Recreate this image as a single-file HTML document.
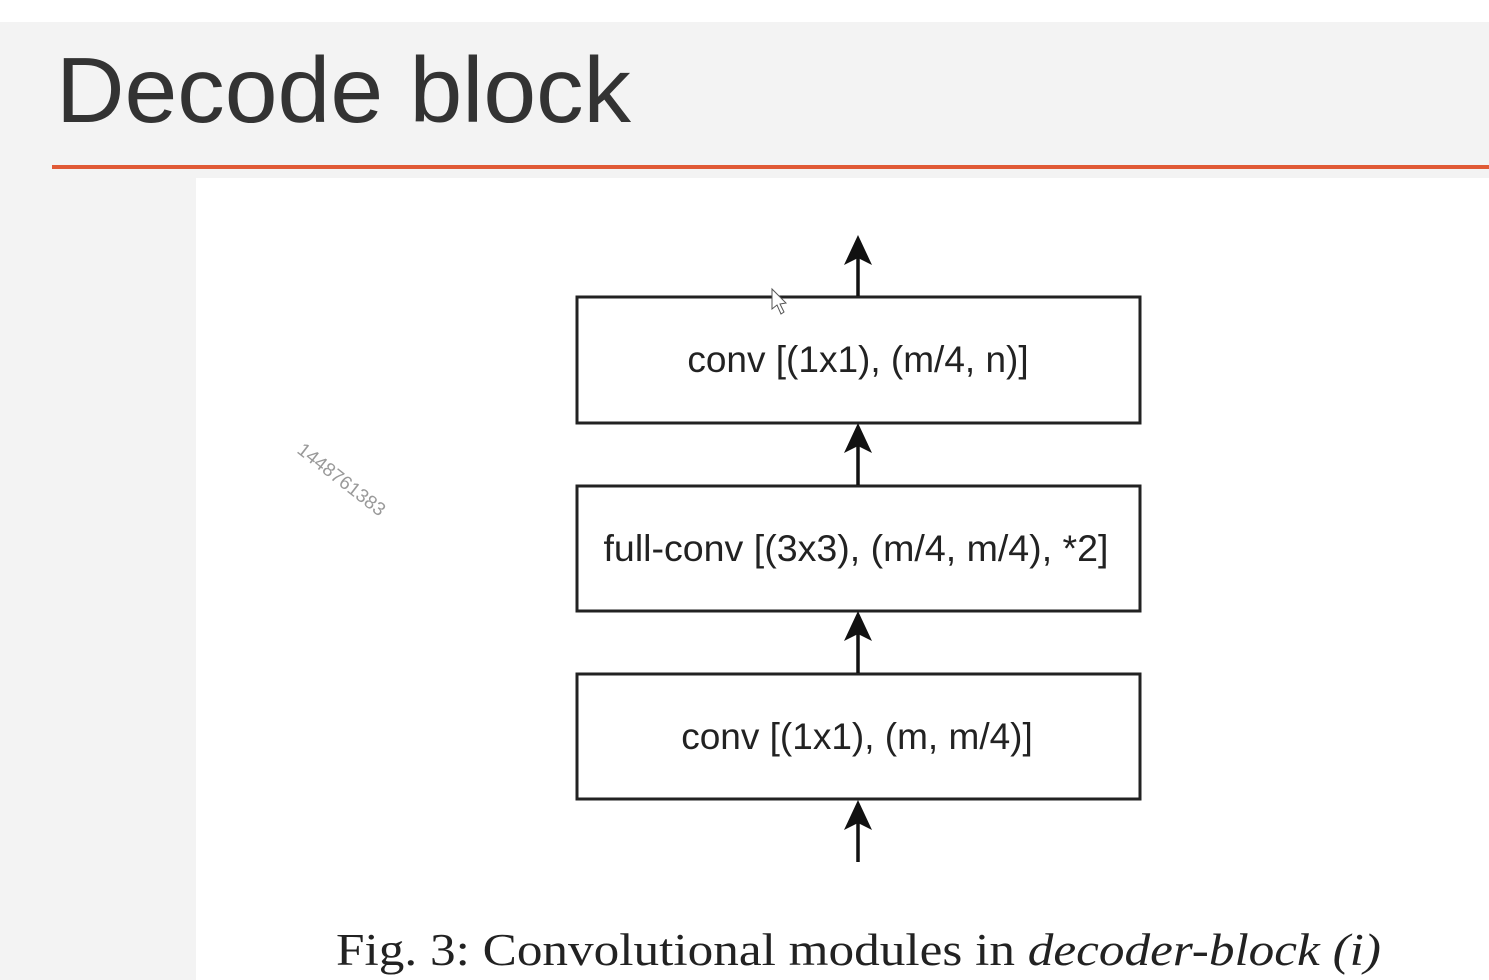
<!DOCTYPE html>
<html><head><meta charset="utf-8"><style>
html,body{margin:0;padding:0;width:1489px;height:980px;overflow:hidden;background:#fff}
svg{display:block}
</style></head><body>
<svg width="1489" height="980" viewBox="0 0 1489 980">
<rect x="0" y="0" width="1489" height="980" fill="#ffffff"/>
<rect x="0" y="22" width="1489" height="958" fill="#f3f3f3"/>
<text x="56" y="122" font-family="Liberation Sans, sans-serif" font-size="93" fill="#333" textLength="575" lengthAdjust="spacingAndGlyphs">Decode block</text>
<rect x="52" y="165" width="1437" height="4" fill="#e05a36"/>
<rect x="196" y="178" width="1293" height="802" fill="#ffffff"/>
<g stroke="#222" stroke-width="3" fill="#fff">
<rect x="577" y="297" width="563" height="126"/>
<rect x="577" y="486" width="563" height="125"/>
<rect x="577" y="674" width="563" height="125"/>
</g>
<g stroke="#111" stroke-width="3.5">
<line x1="858" y1="296" x2="858" y2="250"/>
<line x1="858" y1="485" x2="858" y2="438"/>
<line x1="858" y1="673" x2="858" y2="626"/>
<line x1="858" y1="862" x2="858" y2="814"/>
</g>
<g fill="#111">
<path d="M858 235 L872 265 L858 258 L844 265 Z"/>
<path d="M858 423 L872 453 L858 446 L844 453 Z"/>
<path d="M858 611 L872 641 L858 634 L844 641 Z"/>
<path d="M858 800 L872 830 L858 823 L844 830 Z"/>
</g>
<g font-family="Liberation Sans, sans-serif" font-size="37" fill="#222" text-anchor="middle">
<text x="858" y="372">conv [(1x1), (m/4, n)]</text>
<text x="856" y="561" textLength="505" lengthAdjust="spacingAndGlyphs">full-conv [(3x3), (m/4, m/4), *2]</text>
<text x="857" y="749">conv [(1x1), (m, m/4)]</text>
</g>
<text x="336" y="965" font-family="Liberation Serif, serif" font-size="45" fill="#222" textLength="1045" lengthAdjust="spacingAndGlyphs">Fig. 3: Convolutional modules in <tspan font-style="italic">decoder-block (i)</tspan></text>
<text x="0" y="0" transform="translate(296,452) rotate(38)" font-family="Liberation Sans, sans-serif" font-size="19" fill="#999">1448761383</text>
<path d="M772 289 L772 309 L777 305 L781 314 L784 312 L780 304 L786 303 Z" fill="#fff" stroke="#555" stroke-width="1"/>
</svg>
</body></html>
